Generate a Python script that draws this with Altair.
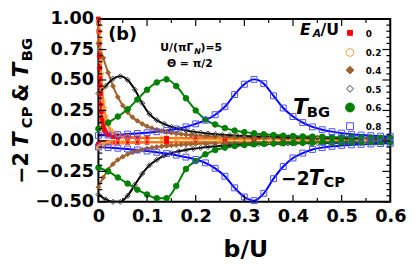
import altair as alt
import pandas as pd

FONT = "DejaVu Sans"

series = ["0", "0.2", "0.4", "0.5", "0.6", "0.8"]
line_colors = ["#ff0000", "#ff7f00", "#a0622d", "#000000", "#008000", "#0000ff"]
marker_stroke = ["#ff0000", "#f5a04a", "#a0622d", "#404040", "#008000", "#4d4dff"]
marker_fill = ["#ff0000", "transparent", "#a0622d", "transparent", "#008000", "transparent"]
marker_shape = ["square", "circle", "diamond", "diamond", "circle", "square"]
marker_size = [16, 36, 49, 30, 64, 36]
legend_size = [25, 64, 64, 49, 81, 49]

# E_A/U = 0
b_0 = [0, 0.0005, 0.001, 0.0015, 0.002, 0.0025, 0.003, 0.0035, 0.004, 0.005,
       0.006, 0.007, 0.008, 0.01, 0.012, 0.015, 0.02, 0.03, 0.04, 0.06,
       0.08, 0.1, 0.14, 0.2, 0.26, 0.32, 0.38, 0.44, 0.5, 0.56, 0.6]
bg_0 = [1.0, 0.97, 0.9, 0.8, 0.7, 0.6, 0.52, 0.45, 0.39, 0.3,
        0.24, 0.19, 0.16, 0.12, 0.09, 0.07, 0.05, 0.035, 0.03, 0.027,
        0.025, 0.024, 0.023, 0.022, 0.021, 0.02, 0.02, 0.019, 0.019, 0.018, 0.018]
cp_0 = [-0.03, -0.029, -0.028, -0.027, -0.026, -0.025, -0.024, -0.023, -0.022, -0.021,
        -0.02, -0.019, -0.018, -0.017, -0.016, -0.015, -0.015, -0.014, -0.014, -0.013,
        -0.013, -0.012, -0.012, -0.012, -0.011, -0.011, -0.011, -0.01, -0.01, -0.01, -0.01]

# E_A/U = 0.2
b_2 = [0, 0.001, 0.002, 0.003, 0.004, 0.005, 0.006, 0.008, 0.01, 0.012,
       0.015, 0.018, 0.02, 0.025, 0.03, 0.04, 0.05, 0.06, 0.08, 0.1,
       0.13, 0.16, 0.2, 0.25, 0.3, 0.35, 0.4, 0.45, 0.5, 0.55, 0.6]
bg_2 = [0.98, 0.95, 0.9, 0.83, 0.75, 0.65, 0.55, 0.42, 0.33, 0.27,
        0.2, 0.16, 0.13, 0.09, 0.07, 0.05, 0.042, 0.036, 0.03, 0.026,
        0.023, 0.021, 0.019, 0.017, 0.016, 0.015, 0.014, 0.013, 0.012, 0.012, 0.011]
cp_2 = [-0.06, -0.055, -0.05, -0.045, -0.04, -0.037, -0.034, -0.03, -0.027, -0.025,
        -0.022, -0.02, -0.019, -0.017, -0.015, -0.013, -0.012, -0.011, -0.01, -0.009,
        -0.008, -0.008, -0.007, -0.007, -0.006, -0.006, -0.006, -0.005, -0.005, -0.005, -0.005]

# E_A/U = 0.4
b_4 = [0, 0.01, 0.02, 0.03, 0.04, 0.05, 0.06, 0.07, 0.08, 0.09,
       0.1, 0.11, 0.12, 0.13, 0.14, 0.15, 0.16, 0.17, 0.18, 0.19,
       0.2, 0.22, 0.24, 0.26, 0.28, 0.3, 0.32, 0.34, 0.36, 0.38,
       0.4, 0.42, 0.44, 0.46, 0.48, 0.5, 0.52, 0.54, 0.56, 0.58, 0.6]
bg_4 = [0.80, 0.68, 0.56, 0.45, 0.36, 0.29, 0.235, 0.195, 0.165, 0.14,
        0.12, 0.105, 0.092, 0.082, 0.074, 0.067, 0.061, 0.056, 0.052, 0.048,
        0.045, 0.04, 0.036, 0.033, 0.03, 0.028, 0.026, 0.025, 0.024, 0.023,
        0.022, 0.021, 0.02, 0.019, 0.019, 0.018, 0.018, 0.017, 0.017, 0.016, 0.016]
cp_4 = [-0.38, -0.30, -0.235, -0.19, -0.155, -0.13, -0.11, -0.095, -0.082, -0.072,
        -0.063, -0.056, -0.05, -0.045, -0.041, -0.037, -0.034, -0.031, -0.029, -0.027,
        -0.025, -0.022, -0.02, -0.018, -0.017, -0.016, -0.015, -0.014, -0.013, -0.013,
        -0.012, -0.012, -0.011, -0.011, -0.011, -0.01, -0.01, -0.01, -0.01, -0.009, -0.009]

# E_A/U = 0.5
b_5 = [0, 0.015, 0.03, 0.045, 0.06, 0.075, 0.09, 0.105, 0.12, 0.135,
       0.15, 0.165, 0.18, 0.195, 0.21, 0.225, 0.24, 0.255, 0.27, 0.285,
       0.3, 0.315, 0.33, 0.345, 0.36, 0.375, 0.39, 0.405, 0.42, 0.435,
       0.45, 0.465, 0.48, 0.495, 0.51, 0.525, 0.54, 0.555, 0.57, 0.585, 0.6]
bg_5 = [0.39, 0.45, 0.51, 0.53, 0.50, 0.42, 0.31, 0.22, 0.17, 0.14,
        0.115, 0.098, 0.086, 0.076, 0.068, 0.061, 0.055, 0.05, 0.046, 0.043,
        0.04, 0.038, 0.036, 0.034, 0.032, 0.031, 0.03, 0.029, 0.028, 0.027,
        0.026, 0.025, 0.024, 0.024, 0.023, 0.022, 0.022, 0.021, 0.021, 0.02, 0.02]
cp_5 = [-0.44, -0.48, -0.50, -0.50, -0.45, -0.36, -0.27, -0.20, -0.155, -0.12,
        -0.10, -0.085, -0.074, -0.065, -0.057, -0.05, -0.045, -0.04, -0.036, -0.033,
        -0.03, -0.028, -0.026, -0.024, -0.023, -0.022, -0.021, -0.02, -0.019, -0.018,
        -0.018, -0.017, -0.017, -0.016, -0.016, -0.015, -0.015, -0.015, -0.014, -0.014, -0.014]

# E_A/U = 0.6
b_6 = [0, 0.02, 0.04, 0.06, 0.08, 0.1, 0.12, 0.14, 0.16, 0.18,
       0.2, 0.22, 0.24, 0.26, 0.28, 0.3, 0.32, 0.34, 0.36, 0.38,
       0.4, 0.42, 0.44, 0.46, 0.48, 0.5, 0.52, 0.54, 0.56, 0.58, 0.6]
bg_6 = [0.10, 0.15, 0.20, 0.26, 0.34, 0.42, 0.48, 0.505, 0.45, 0.35,
        0.25, 0.175, 0.135, 0.105, 0.085, 0.072, 0.062, 0.054, 0.048, 0.043,
        0.04, 0.037, 0.035, 0.033, 0.031, 0.03, 0.029, 0.028, 0.027, 0.026, 0.025]
cp_6 = [-0.22, -0.25, -0.30, -0.35, -0.40, -0.44, -0.47, -0.47, -0.37, -0.23,
        -0.165, -0.11, -0.075, -0.055, -0.042, -0.034, -0.028, -0.024, -0.021, -0.019,
        -0.017, -0.016, -0.015, -0.014, -0.013, -0.013, -0.012, -0.012, -0.011, -0.011, -0.011]

# E_A/U = 0.8
b_8 = b_6
bg_8 = [0.045, 0.048, 0.052, 0.056, 0.061, 0.067, 0.075, 0.085, 0.098, 0.115,
        0.14, 0.17, 0.215, 0.28, 0.38, 0.465, 0.505, 0.47, 0.37, 0.27,
        0.20, 0.15, 0.115, 0.092, 0.076, 0.064, 0.055, 0.048, 0.043, 0.039, 0.035]
cp_8 = [-0.05, -0.055, -0.06, -0.066, -0.074, -0.083, -0.093, -0.104, -0.117, -0.133,
        -0.152, -0.18, -0.225, -0.29, -0.385, -0.46, -0.49, -0.43, -0.31, -0.21,
        -0.14, -0.10, -0.07, -0.055, -0.045, -0.037, -0.032, -0.028, -0.025, -0.022, -0.02]

x_major = [0, 0.1, 0.2, 0.3, 0.4, 0.5, 0.6]
x_minor = [0.05, 0.15, 0.25, 0.35, 0.45, 0.55]
y_major = [-0.5, -0.25, 0, 0.25, 0.5, 0.75, 1.0]
y_minor = [-0.45, -0.4, -0.35, -0.3, -0.2, -0.15, -0.1, -0.05, 0.05, 0.1, 0.15, 0.2,
           0.3, 0.35, 0.4, 0.45, 0.55, 0.6, 0.65, 0.7, 0.8, 0.85, 0.9, 0.95]

rows = []
for name, bs, bg, cp in [("0", b_0, bg_0, cp_0), ("0.2", b_2, bg_2, cp_2),
                         ("0.4", b_4, bg_4, cp_4), ("0.5", b_5, bg_5, cp_5),
                         ("0.6", b_6, bg_6, cp_6), ("0.8", b_8, bg_8, cp_8)]:
    for b, v in zip(bs, bg):
        rows.append({"ea": name, "kind": "BG", "b": b, "v": v})
    for b, v in zip(bs, cp):
        rows.append({"ea": name, "kind": "CP", "b": b, "v": v})
df = pd.DataFrame(rows)

W, H = 297, 186
xs = alt.Scale(domain=[0, 0.6], nice=False)
ys = alt.Scale(domain=[-0.5, 1.0], nice=False)
xaxis = alt.Axis(values=x_major, labelExpr="datum.value == 0 ? '0' : format(datum.value, '.1f')",
                 title=None, labelPadding=6, labelFlush=False, labelOverlap=False)
yaxis = alt.Axis(values=y_major, format=".2f", title=None, labelPadding=5,
                 labelFlush=False, labelOverlap=False)
X = alt.X("b:Q", scale=xs, axis=xaxis)
Y = alt.Y("v:Q", scale=ys, axis=yaxis)

lines = alt.Chart(df).mark_line(interpolate="monotone", strokeWidth=2, clip=True).encode(
    x=X, y=Y,
    color=alt.Color("ea:N", scale=alt.Scale(domain=series, range=line_colors), legend=None),
    detail="kind:N",
)

points = alt.Chart(df).mark_point(opacity=1, strokeWidth=1).encode(
    x=X, y=Y,
    shape=alt.Shape("ea:N", scale=alt.Scale(domain=series, range=marker_shape), legend=None),
    stroke=alt.Stroke("ea:N", scale=alt.Scale(domain=series, range=marker_stroke), legend=None),
    fill=alt.Fill("ea:N", scale=alt.Scale(domain=series, range=marker_fill), legend=None),
    size=alt.Size("ea:N", scale=alt.Scale(domain=series, range=marker_size), legend=None),
)

xmaj = pd.DataFrame({"b": x_major})
xmin = pd.DataFrame({"b": x_minor})
ymaj = pd.DataFrame({"v": y_major})
ymin = pd.DataFrame({"v": y_minor})

def xticks(d, L):
    bot = alt.Chart(d).mark_rule(color="black", strokeWidth=1.2).encode(
        x=X, y=alt.value(H), y2=alt.value(H - L))
    top = alt.Chart(d).mark_rule(color="black", strokeWidth=1.2).encode(
        x=X, y=alt.value(0), y2=alt.value(L))
    return [bot, top]

def yticks(d, L):
    lft = alt.Chart(d).mark_rule(color="black", strokeWidth=1.2).encode(
        y=Y, x=alt.value(0), x2=alt.value(L))
    rgt = alt.Chart(d).mark_rule(color="black", strokeWidth=1.2).encode(
        y=Y, x=alt.value(W), x2=alt.value(W - L))
    return [lft, rgt]

ONE = alt.Data(values=[{}])

def txt(s, x, y, size, italic=False, angle=0, align="left", baseline="middle"):
    return alt.Chart(ONE).mark_text(
        text=s, font=FONT, fontSize=size, fontWeight="bold",
        fontStyle="italic" if italic else "normal",
        align=align, baseline=baseline, angle=angle, color="black",
    ).encode(x=alt.value(x), y=alt.value(y))

# legend (E_A/U key)
legend_layers = []
leg_rows = [14, 34, 52, 71, 90, 109]
for i, name in enumerate(series):
    legend_layers.append(alt.Chart(ONE).mark_point(
        shape=marker_shape[i], size=legend_size[i], fill=marker_fill[i],
        stroke=marker_stroke[i], strokeWidth=1, opacity=1,
    ).encode(x=alt.value(256), y=alt.value(leg_rows[i])))
    legend_layers.append(txt(name, 272, leg_rows[i] + 1, 9))

texts = [
    txt("(b)", 10, 16, 18),
    txt("U/(πΓ", 63, 30, 11),
    txt("N", 97.5, 33.5, 8, italic=True),
    txt(")=5", 104, 30, 11),
    txt("Θ = π/2", 93, 46, 11, align="center"),
    txt("E", 205, 11, 16, italic=True),
    txt("A", 218, 15, 11, italic=True),
    txt("/U", 226, 11, 16),
    txt("T", 198, 90, 22, italic=True),
    txt("BG", 212, 95, 15),
    txt("−2", 215, 163, 19, align="right"),
    txt("T", 214, 163, 21, italic=True),
    txt("CP", 229, 166, 15),
    txt("b/U", 150, 235, 24, align="center"),
    # rotated y-axis title
    txt("−2", -72, 151.5, 21, angle=270, align="center", baseline="alphabetic"),
    txt("T", -72, 123, 22, italic=True, angle=270, align="center", baseline="alphabetic"),
    txt("CP", -68, 100, 15, angle=270, align="center", baseline="alphabetic"),
    txt("&", -72, 75, 21, angle=270, align="center", baseline="alphabetic"),
    txt("T", -72, 52, 22, italic=True, angle=270, align="center", baseline="alphabetic"),
    txt("BG", -68, 31, 15, angle=270, align="center", baseline="alphabetic"),
]

layers = ([lines, points] + xticks(xmaj, 7) + xticks(xmin, 4) + yticks(ymaj, 8)
          + yticks(ymin, 4) + legend_layers + texts)

chart = alt.layer(*layers).properties(
    width=W, height=H,
    padding={"left": 92, "top": 9, "right": 17, "bottom": 61},
    autosize=alt.AutoSizeParams(type="none"),
).configure_view(stroke="black", strokeWidth=2).configure_axis(
    ticks=False, domain=False, grid=False,
    labelFont=FONT, labelFontSize=18, labelFontWeight="bold", labelColor="black",
)

chart.save("out.html", embed_options={"renderer": "svg", "actions": False})
